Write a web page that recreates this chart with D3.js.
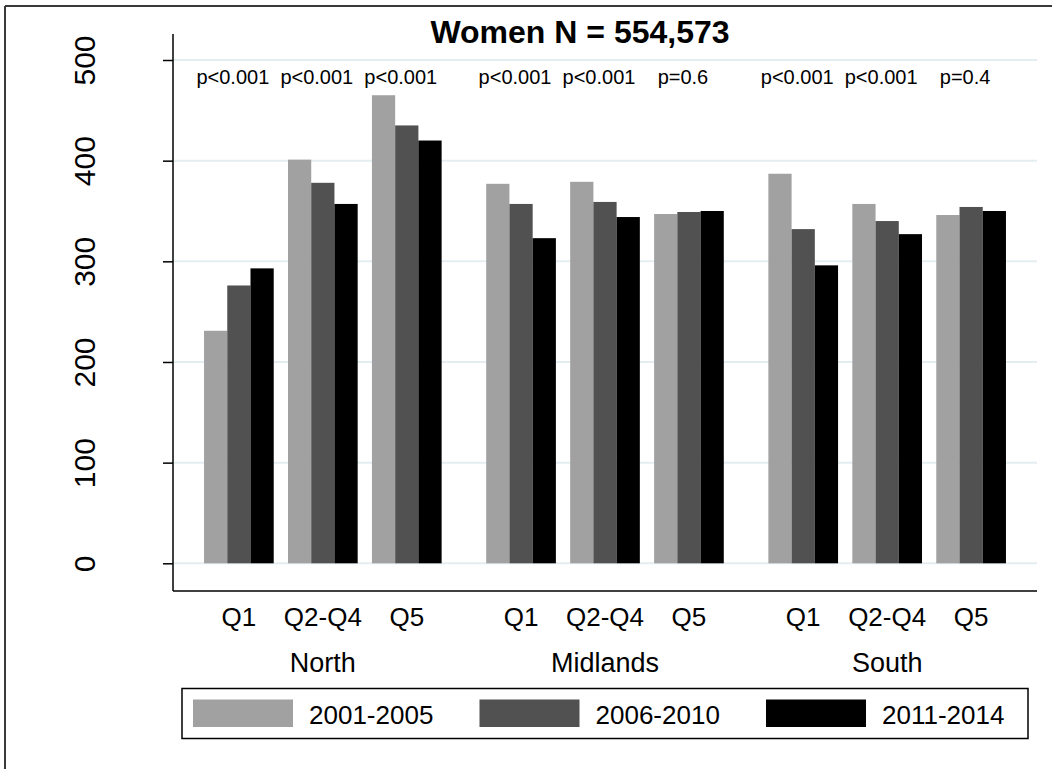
<!DOCTYPE html>
<html>
<head>
<meta charset="utf-8">
<script src="https://cdn.jsdelivr.net/npm/d3@7"></script>
<style>
  html, body { margin: 0; padding: 0; background: #fff; }
  svg { display: block; font-family: "Liberation Sans", Arial, sans-serif; }
</style>
</head>
<body>
<svg id="chart" width="1052" height="769"></svg>
<script>
// Regions, deprivation quintile groups and calendar periods
const regions = ["North", "Midlands", "South"];
const quintiles = ["Q1", "Q2-Q4", "Q5"];
const periods = ["2001-2005", "2006-2010", "2011-2014"];

// Rates per period, ordered North Q1..Q5, Midlands Q1..Q5, South Q1..Q5
const rates2001 = [231, 401, 465, 377, 379, 347, 387, 357, 346];
const rates2006 = [276, 378, 435, 357, 359, 349, 332, 340, 354];
const rates2011 = [293, 357, 420, 323, 344, 350, 296, 327, 350];

// Trend test results, same order as the rates
const pLabels = ["p<0.001", "p<0.001", "p<0.001",
                 "p<0.001", "p<0.001", "p=0.6",
                 "p<0.001", "p<0.001", "p=0.4"];

const yTicks = [0, 100, 200, 300, 400, 500];
const titleText = "Women N = 554,573";

const seriesColors = ["#a1a1a1", "#515151", "#000000"];
const seriesValues = [rates2001, rates2006, rates2011];

const svg = d3.select("#chart");

// Plot area
const plotLeft = 173, plotRight = 1037, axisTop = 34, axisBottom = 591;

const y = d3.scaleLinear().domain([0, 500]).range([563.3, 60]);

const xRegion = d3.scaleBand().domain(regions)
  .range([plotLeft, plotRight]).paddingInner(0.158).paddingOuter(0.11);
const xQuint = d3.scaleBand().domain(quintiles)
  .range([0, xRegion.bandwidth()]).paddingInner(0.17).paddingOuter(0);
const xPeriod = d3.scaleBand().domain(periods)
  .range([0, xQuint.bandwidth()]).padding(0);

// Flatten into bar records
const cells = [];
regions.forEach((r, ri) => quintiles.forEach((q, qi) => {
  const idx = ri * quintiles.length + qi;
  cells.push({ region: r, quint: q, idx });
}));
const bars = [];
cells.forEach(c => periods.forEach((p, pi) => {
  bars.push({ ...c, period: p, pi, value: seriesValues[pi][c.idx] });
}));

// Outer frame (left and top edges)
svg.append("line").attr("x1", 5).attr("x2", 5).attr("y1", 6).attr("y2", 769)
  .attr("stroke", "#3a3a3a").attr("stroke-width", 2);
svg.append("line").attr("x1", 5).attr("x2", 1052).attr("y1", 6).attr("y2", 6)
  .attr("stroke", "#3a3a3a").attr("stroke-width", 2);

// Gridlines
svg.append("g").selectAll("line").data(yTicks).join("line")
  .attr("x1", plotLeft).attr("x2", plotRight)
  .attr("y1", d => y(d)).attr("y2", d => y(d))
  .attr("stroke", "#e4edf0").attr("stroke-width", 2);

// Bars
svg.append("g").selectAll("rect").data(bars).join("rect")
  .attr("x", d => xRegion(d.region) + xQuint(d.quint) + xPeriod(d.period))
  .attr("width", xPeriod.bandwidth())
  .attr("y", d => y(d.value))
  .attr("height", d => y(0) - y(d.value))
  .attr("fill", d => seriesColors[d.pi]);

// Y axis
const yAxis = d3.axisLeft(y).tickValues(yTicks).tickSize(10).tickFormat(d3.format("d"));
const gy = svg.append("g").attr("transform", `translate(${plotLeft},0)`).call(yAxis);
gy.select(".domain").remove();
gy.selectAll(".tick line").attr("stroke", "#000").attr("stroke-width", 1.5);
gy.selectAll(".tick text").remove();
gy.selectAll(".tick").append("text")
  .attr("transform", "translate(-78,0) rotate(-90)")
  .attr("text-anchor", "middle")
  .attr("fill", "#000")
  .attr("font-size", 30)
  .text(d => d);

svg.append("line").attr("x1", plotLeft).attr("x2", plotLeft)
  .attr("y1", axisTop).attr("y2", axisBottom)
  .attr("stroke", "#000").attr("stroke-width", 1.5);
svg.append("line").attr("x1", plotLeft).attr("x2", plotRight)
  .attr("y1", axisBottom).attr("y2", axisBottom)
  .attr("stroke", "#000").attr("stroke-width", 1.5);

// Category labels
const groupCenter = c => xRegion(c.region) + xQuint(c.quint) + xQuint.bandwidth() / 2;
svg.append("g").selectAll("text").data(cells).join("text")
  .attr("x", groupCenter).attr("y", 626)
  .attr("text-anchor", "middle").attr("font-size", 26).attr("fill", "#000")
  .text(d => d.quint);

svg.append("g").selectAll("text").data(regions).join("text")
  .attr("x", d => xRegion(d) + xRegion.bandwidth() / 2).attr("y", 672)
  .attr("text-anchor", "middle").attr("font-size", 27).attr("fill", "#000")
  .text(d => d);

// Trend p-values above each group
svg.append("g").selectAll("text").data(cells).join("text")
  .attr("x", d => groupCenter(d) - 6).attr("y", 84)
  .attr("text-anchor", "middle").attr("font-size", 20).attr("fill", "#000")
  .text(d => pLabels[d.idx]);

// Title
svg.append("text").attr("x", 580).attr("y", 43)
  .attr("text-anchor", "middle").attr("font-size", 32).attr("font-weight", "bold")
  .attr("fill", "#000").text(titleText);

// Legend
const legend = svg.append("g");
legend.append("rect").attr("x", 182).attr("y", 688.5).attr("width", 846).attr("height", 50)
  .attr("fill", "#fff").attr("stroke", "#000").attr("stroke-width", 1.5);
const legendX = d3.scalePoint().domain(periods).range([193, 766]);
const items = legend.selectAll("g.item").data(periods).join("g").attr("class", "item")
  .attr("transform", d => `translate(${legendX(d)},0)`);
items.append("rect").attr("x", 0).attr("y", 699.5).attr("width", 100).attr("height", 27.5)
  .attr("fill", (d, i) => seriesColors[i]);
items.append("text").attr("x", 116).attr("y", 724)
  .attr("font-size", 26).attr("fill", "#000").text(d => d);
</script>
</body>
</html>
